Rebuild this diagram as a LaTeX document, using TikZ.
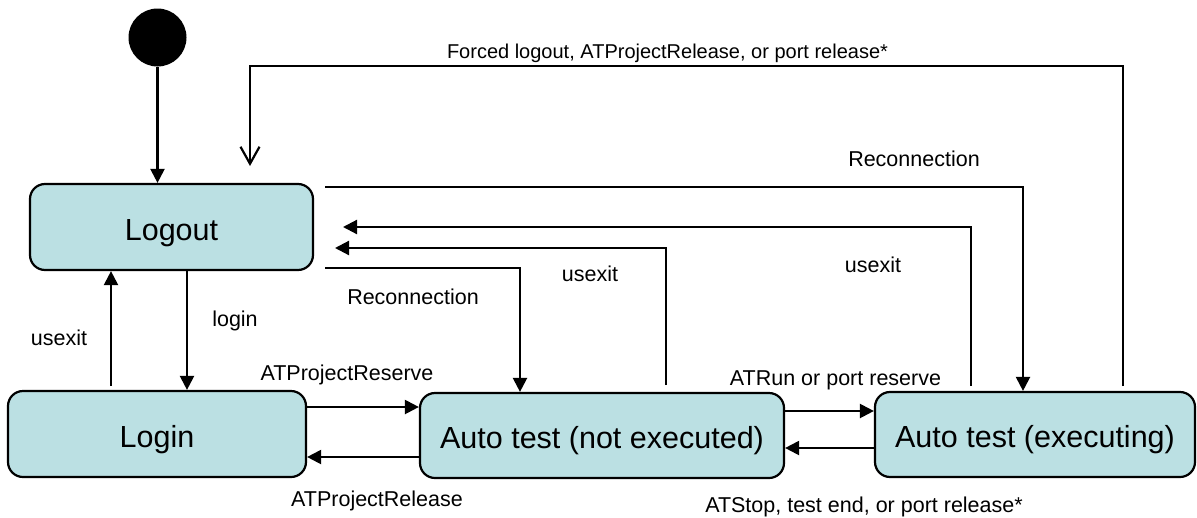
\documentclass[tikz,border=0pt]{standalone}
\usepackage{fontspec}
\setmainfont{Liberation Sans}
\usetikzlibrary{arrows.meta}

\definecolor{statefill}{RGB}{187,224,227}

\begin{document}
\begin{tikzpicture}[x=1pt,y=-1pt,
  state/.style={draw=black, line width=2.2pt, fill=statefill, rounded corners=15pt,
    inner sep=0pt, text height=26pt, text depth=0pt,
    font=\fontsize{30.5}{36}\selectfont},
  lbl/.style={anchor=base, inner sep=0pt, font=\fontsize{21.5}{26}\selectfont},
  arr/.style={line width=2.2pt, -{Triangle[length=14pt,width=14pt]}},
  openarr/.style={line width=2.2pt, -{Straight Barb[length=17pt,width=19pt]}}
]
\useasboundingbox (0,0) rectangle (1197,517);

% initial state
\node[circle, fill=black, minimum size=58pt, inner sep=0pt] (init) at (157.5,37.5) {};

% states
\node[state, minimum width=283pt, minimum height=86pt] (Logout)  at (171.5,227) {Logout};
\node[state, minimum width=298pt, minimum height=86pt] (Login)   at (157,434)   {Login};
\node[state, minimum width=364pt, minimum height=85pt] (notexec) at (602,435.5) {Auto test (not executed)};
\node[state, minimum width=320pt, minimum height=85pt] (exec)    at (1035,434.5) {Auto test (executing)};

% free ends of the long connectors
\coordinate (fA) at (1123,386);
\coordinate (fB) at (250,166);
\coordinate (rA) at (325,187);
\coordinate (uA) at (971,386);
\coordinate (uB) at (343,227);
\coordinate (vA) at (666,385);
\coordinate (vB) at (335,248);
\coordinate (sA) at (325,268);
\coordinate (wA) at (111,386);

% transitions
\draw[arr] (init) -- (init |- Logout.north);
\draw[openarr] (fA) |- (250,66) -- (fB);
\draw[arr] (rA) -| (exec.north -| 1023,0);
\draw[arr] (uA) |- (uB);
\draw[arr] (vA) |- (vB);
\draw[arr] (sA) -| (notexec.north -| 520,0);
\draw[arr] (Logout.south -| 187,0) -- (Login.north -| 187,0);
\draw[arr] (wA) -- (Logout.south -| wA);
\draw[arr] (Login.east |- 0,407) -- (notexec.west |- 0,407);
\draw[arr] (notexec.west |- 0,457) -- (Login.east |- 0,457);
\draw[arr] (notexec.east |- 0,411) -- (exec.west |- 0,411);
\draw[arr] (exec.west |- 0,448) -- (notexec.east |- 0,448);

% transition labels
\node[lbl, font=\fontsize{20}{24}\selectfont] (l1) at (667.5,58) {Forced logout, ATProjectRelease, or port release*};
\node[lbl] (l2)  at (914,166) {Reconnection};
\node[lbl] (l3)  at (873,272) {usexit};
\node[lbl] (l4)  at (590,281) {usexit};
\node[lbl] (l5)  at (413,304) {Reconnection};
\node[lbl] (l6)  at (235,326) {login};
\node[lbl] (l7)  at (59,345)  {usexit};
\node[lbl] (l8)  at (347,380) {ATProjectReserve};
\node[lbl] (l9)  at (377,506) {ATProjectRelease};
\node[lbl] (l10) at (835.5,385) {ATRun or port reserve};
\node[lbl] (l11) at (864,512) {ATStop, test end, or port release*};
\end{tikzpicture}
\end{document}
